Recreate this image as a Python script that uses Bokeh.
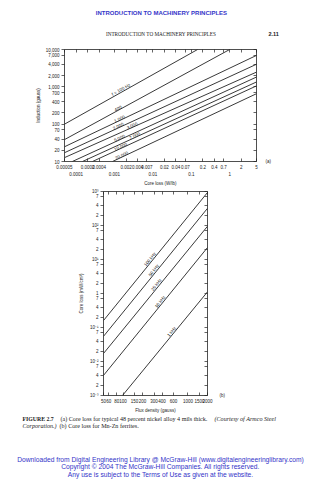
import math
from bokeh.plotting import figure
from bokeh.models import LogAxis, FixedTicker, ColumnDataSource, LogScale, Range1d
from bokeh.layouts import column
from bokeh.embed import file_html
from bokeh.resources import INLINE
from bokeh.core.properties import value

# ---------------- chart (a): 48% nickel alloy ----------------
a_line_labels = ["f = 100 Hz", "400", "1,000", "2,000", "3,000", "5,000", "7,000", "10,000", "20,000"]
a_loss_start = [0.00005, 0.00005, 0.00005, 0.00005, 0.00005, 0.00008, 0.000147, 0.000268, 0.00089]
a_ind_start = [100, 38.6, 24.8, 17.2, 12.7, 10, 10, 10, 10]
a_loss_end = [0.146, 1.0, 5, 5, 5, 5, 5, 5, 5]
a_ind_end = [10000, 10000, 6950, 4030, 2480, 1830, 1350, 1060, 655]
a_label_loss = [0.0016, 0.0013, 0.0014, 0.0013, 0.003, 0.0014, 0.0035, 0.0015, 0.0016]

a_y_ticks = [10, 20, 40, 70, 100, 200, 400, 700, 1000, 2000, 4000, 7000, 10000]
a_y_tick_labels = ["10", "20", "40", "70", "100", "200", "400", "700", "1,000", "2,000", "4,000", "7,000", "10,000"]
a_x_ticks_row1 = [0.00005, 0.0002, 0.0004, 0.002, 0.004, 0.007, 0.02, 0.04, 0.07, 0.2, 0.4, 0.7, 2, 5]
a_x_labels_row1 = ["0.00005", "0.0002", "0.0004", "0.002", "0.004", "0.007", "0.02", "0.04", "0.07", "0.2", "0.4", "0.7", "2", "5"]
a_x_ticks_row2 = [0.0001, 0.001, 0.01, 0.1, 1]
a_x_labels_row2 = ["0.0001", "0.001", "0.01", "0.1", "1"]

# ---------------- chart (b): Mn-Zn ferrites ----------------
b_line_labels = ["100 kHz", "50 kHz", "25 kHz", "10 kHz", "1 kHz"]
b_flux_start = [50, 50, 50, 50, 98]
b_loss_start = [0.16, 0.055, 0.0172, 0.0039, 0.001]
b_flux_end = [2000, 2000, 2000, 2000, 2000]
b_loss_end = [935, 320, 95, 22.5, 1.12]
b_label_flux = [280, 320, 350, 400, 600]

b_y_ticks = [0.001, 0.002, 0.004, 0.007, 0.01, 0.02, 0.04, 0.07, 0.1, 0.2, 0.4, 0.7,
             1, 2, 4, 7, 10, 20, 40, 70, 100, 200, 400, 700, 1000]
b_y_tick_labels = ["10\u207b\u00b3", "2", "4", "7", "10\u207b\u00b2", "2", "4", "7", "10\u207b\u00b9", "2", "4", "7",
                   "1", "2", "4", "7", "10\u00b9", "2", "4", "7", "10\u00b2", "2", "4", "7", "10\u00b3"]
b_x_ticks = [50, 60, 80, 100, 150, 200, 300, 400, 600, 1000, 1500, 2000]
b_x_tick_labels = ["50", "60", "80", "100", "150", "200", "300", "400", "600", "1000", "1500", "2000"]

# ---------------- page texts ----------------
header_blue = "INTRODUCTION TO MACHINERY PRINCIPLES"
header_running = "INTRODUCTION TO MACHINERY PRINCIPLES"
page_number = "2.11"
caption_fig = "FIGURE 2.7"
caption_a = "(a) Core loss for typical 48 percent nickel alloy 4 mils thick."
caption_courtesy = "(Courtesy of Armco Steel"
caption_corp = "Corporation.)"
caption_b = "(b) Core loss for Mn-Zn ferrites."
footer_lines = ["Downloaded from Digital Engineering Library @ McGraw-Hill (www.digitalengineeringlibrary.com)",
                "Copyright \u00a9 2004 The McGraw-Hill Companies. All rights reserved.",
                "Any use is subject to the Terms of Use as given at the website."]

FONT = "Liberation Sans"
SERIF = "Liberation Serif"
INK = "#222222"
BLUE = "#3434c8"
W = 319


def no_align(fig):
    try:
        fig.frame_align = False
    except Exception:
        pass


def make_axis(ticks, labels, tick_in, tick_out, line=True, size="4.5px", standoff=2):
    ax = LogAxis(
        ticker=FixedTicker(ticks=ticks, minor_ticks=[]),
        major_label_overrides={t: l for t, l in zip(ticks, labels)},
        major_tick_in=tick_in, major_tick_out=tick_out,
        minor_tick_in=0, minor_tick_out=0,
        major_label_text_font=FONT, major_label_text_font_size=size,
        major_label_text_color=INK,
        major_label_standoff=standoff,
        axis_line_color=INK if line else None,
        axis_line_width=0.8,
        major_tick_line_color=INK if (tick_in or tick_out) else None,
        major_tick_line_width=0.7,
    )
    ax.axis_label_text_font = FONT
    ax.axis_label_text_font_size = size
    ax.axis_label_text_font_style = "normal"
    ax.axis_label_text_color = INK
    return ax


def interp_log(x0, y0, x1, y1, x):
    t = (math.log10(x) - math.log10(x0)) / (math.log10(x1) - math.log10(x0))
    return 10 ** (math.log10(y0) + t * (math.log10(y1) - math.log10(y0)))


def text_fig(height):
    f = figure(width=W, height=height, x_range=Range1d(0, W), y_range=Range1d(height, 0),
               x_axis_type=None, y_axis_type=None,
               min_border_left=0, min_border_right=0, min_border_top=0, min_border_bottom=0,
               output_backend="svg", toolbar_location=None)
    f.outline_line_color = None
    f.grid.visible = False
    no_align(f)
    return f


def put(f, x, y, t, size, color=INK, font=FONT, style="normal", align="left"):
    f.text(x=[x], y=[y], text=[t], text_font=value(font), text_font_size=size,
           text_color=color, text_font_style=style, text_align=align, text_baseline="middle")


# ================= header =================
HDR_H = 40
hdr = text_fig(HDR_H)
put(hdr, 161, 12.5, header_blue, "6px", color=BLUE, style="bold", align="center")
put(hdr, 160.5, 33, header_running, "5.2px", font=SERIF, align="center")
put(hdr, 268, 33, page_number, "5.5px", style="bold")

# ================= figure (a) =================
A_H = 148
A_L, A_R, A_T, A_B = 64, 63, 9, 26
pa = figure(width=W, height=A_H, x_axis_type=None, y_axis_type=None,
            x_range=(0.00005, 5), y_range=(10, 10000),
            min_border_left=A_L, min_border_right=A_R, min_border_top=A_T, min_border_bottom=A_B,
            output_backend="svg", toolbar_location=None)
no_align(pa)
pa.x_scale = LogScale()
pa.y_scale = LogScale()
pa.outline_line_color = None

ax_left = make_axis(a_y_ticks, a_y_tick_labels, 0, 3)
ax_left.axis_label = "Induction (gauss)"
ax_left.axis_label_standoff = 2
pa.add_layout(ax_left, "left")
a_right_labels = ["(a)"] + [""] * (len(a_y_ticks) - 1)
pa.add_layout(make_axis(a_y_ticks, a_right_labels, 3, 0, standoff=9), "right")
all_a_x = sorted(a_x_ticks_row1 + a_x_ticks_row2)
pa.add_layout(make_axis(all_a_x, [""] * len(all_a_x), 3, 0), "above")
pa.add_layout(make_axis(a_x_ticks_row1, a_x_labels_row1, 3, 0, standoff=3), "below")
ax_row2 = make_axis(a_x_ticks_row2, a_x_labels_row2, 0, 0, line=False, standoff=0)
ax_row2.axis_label = "Core loss (W/lb)"
ax_row2.axis_label_standoff = 2
pa.add_layout(ax_row2, "below")

pa.multi_line(xs=[[s, e] for s, e in zip(a_loss_start, a_loss_end)],
              ys=[[s, e] for s, e in zip(a_ind_start, a_ind_end)],
              line_color=INK, line_width=0.9)

a_fw = W - A_L - A_R
a_fh = A_H - A_T - A_B
a_px_x = a_fw / 5.0
a_px_y = a_fh / 3.0
lab_x, lab_y, lab_ang = [], [], []
for i in range(len(a_line_labels)):
    lx = a_label_loss[i]
    ly = interp_log(a_loss_start[i], a_ind_start[i], a_loss_end[i], a_ind_end[i], lx)
    sl = (math.log10(a_ind_end[i]) - math.log10(a_ind_start[i])) / (math.log10(a_loss_end[i]) - math.log10(a_loss_start[i]))
    lab_x.append(lx)
    lab_y.append(ly)
    lab_ang.append(math.atan(sl * a_px_y / a_px_x))
pa.text(x="x", y="y", text="text", angle="angle",
        source=ColumnDataSource(dict(x=lab_x, y=lab_y, text=a_line_labels, angle=lab_ang)),
        text_font=value(FONT), text_font_size="4.5px", text_align="center",
        text_baseline="bottom", text_color=INK)

# ================= figure (b) =================
B_L, B_R, B_T, B_B = 103, 112, 3, 18
B_FH = 206
B_H = B_T + B_FH + B_B
pb = figure(width=W, height=B_H, x_axis_type=None, y_axis_type=None,
            x_range=(50, 2000), y_range=(0.001, 1000),
            min_border_left=B_L, min_border_right=B_R, min_border_top=B_T, min_border_bottom=B_B,
            output_backend="svg", toolbar_location=None)
no_align(pb)
pb.x_scale = LogScale()
pb.y_scale = LogScale()
pb.outline_line_color = None

bx_left = make_axis(b_y_ticks, b_y_tick_labels, 0, 3)
bx_left.axis_label = "Core loss (mW/cm\u00b3)"
bx_left.axis_label_standoff = 3
pb.add_layout(bx_left, "left")
b_right_labels = ["(b)"] + [""] * (len(b_y_ticks) - 1)
pb.add_layout(make_axis(b_y_ticks, b_right_labels, 3, 0, standoff=12), "right")
pb.add_layout(make_axis(b_x_ticks, [""] * len(b_x_ticks), 3, 0), "above")
bx_bottom = make_axis(b_x_ticks, b_x_tick_labels, 3, 0, standoff=3)
bx_bottom.axis_label = "Flux density (gauss)"
bx_bottom.axis_label_standoff = 2
pb.add_layout(bx_bottom, "below")

pb.multi_line(xs=[[s, e] for s, e in zip(b_flux_start, b_flux_end)],
              ys=[[s, e] for s, e in zip(b_loss_start, b_loss_end)],
              line_color=INK, line_width=0.9)

b_fw = W - B_L - B_R
b_px_x = b_fw / math.log10(2000 / 50)
b_px_y = B_FH / 6.0
lbx, lby, lba = [], [], []
for i in range(len(b_line_labels)):
    lx = b_label_flux[i]
    ly = interp_log(b_flux_start[i], b_loss_start[i], b_flux_end[i], b_loss_end[i], lx)
    sl = (math.log10(b_loss_end[i]) - math.log10(b_loss_start[i])) / (math.log10(b_flux_end[i]) - math.log10(b_flux_start[i]))
    lbx.append(lx)
    lby.append(ly)
    lba.append(math.atan(sl * b_px_y / b_px_x))
pb.text(x="x", y="y", text="text", angle="angle",
        source=ColumnDataSource(dict(x=lbx, y=lby, text=b_line_labels, angle=lba)),
        text_font=value(FONT), text_font_size="4.5px", text_align="center",
        text_baseline="bottom", text_color=INK)

# ================= footer (caption + download notice) =================
FTR_H = 480 - HDR_H - A_H - B_H
ftr = text_fig(FTR_H)
top_off = HDR_H + A_H + B_H
cy = 418.5 - top_off
put(ftr, 22, cy, caption_fig, "5.8px", font=SERIF, style="bold")
put(ftr, 60, cy, caption_a, "6.1px", font=SERIF)
put(ftr, 214, cy, caption_courtesy, "6.1px", font=SERIF, style="italic")
put(ftr, 22, cy + 7, caption_corp, "6.1px", font=SERIF, style="italic")
put(ftr, 59, cy + 7, caption_b, "6.1px", font=SERIF)
fy = 458.5 - top_off
for k, line in enumerate(footer_lines):
    put(ftr, 160, fy + 7.5 * k, line, "6.7px", color=BLUE, align="center")

layout = column(hdr, pa, pb, ftr, spacing=0)
open("out.html", "w").write(file_html(layout, INLINE))
